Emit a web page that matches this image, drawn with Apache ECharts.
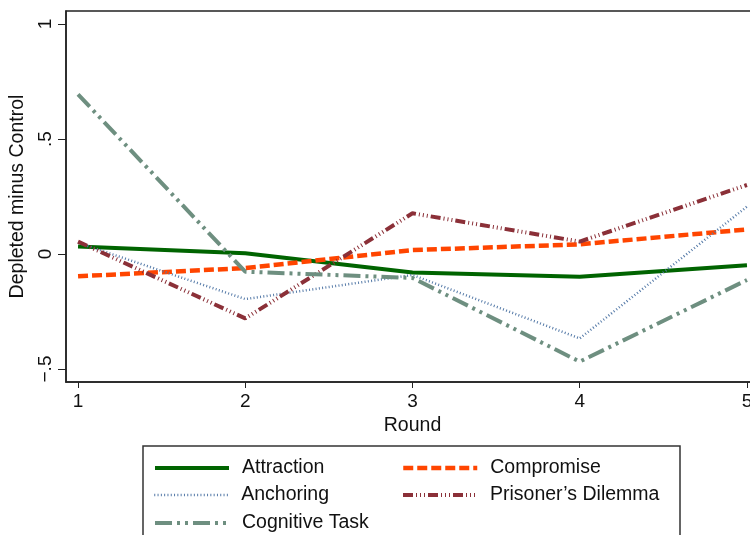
<!DOCTYPE html>
<html>
<head>
<meta charset="utf-8">
<script src="https://cdn.jsdelivr.net/npm/echarts@6/dist/echarts.min.js"></script>
<style>
  html, body { margin: 0; padding: 0; background: #fff; }
  #chart { width: 750px; height: 535px; }
</style>
</head>
<body>
<div id="chart"></div>
<script>
// rounds and series values (depleted minus control)
const rounds = [1, 2, 3, 4, 5]
const attraction = [0.033, 0.003, -0.080, -0.099, -0.049]
const compromise = [-0.097, -0.061, 0.017, 0.042, 0.107]
const anchoring = [0.049, -0.196, -0.091, -0.367, 0.206]
const prisoners = [0.054, -0.280, 0.177, 0.054, 0.300]
const cognitive = [0.694, -0.077, -0.104, -0.468, -0.113]
const yTicks = [-0.5, 0, 0.5, 1]
const yTickLabels = { '-0.5': '\u2212.5', '0': '0', '0.5': '.5', '1': '1' }

const font = 'Liberation Sans, Arial, sans-serif'

function pairs(vals) {
  return rounds.map((r, i) => [r, vals[i]])
}

function line(name, vals, color, width, dash) {
  return {
    name: name,
    type: 'line',
    data: pairs(vals),
    showSymbol: false,
    symbol: 'none',
    silent: true,
    lineStyle: { color: color, width: width, type: dash, cap: 'butt' },
    itemStyle: { color: color },
  }
}

// one legend entry per slot, placed like the two-column key
function key(name, left, centerY, width) {
  return {
    data: [name],
    left: left,
    top: centerY - 11,
    itemWidth: 74,
    itemHeight: 22,
    padding: 0,
    selectedMode: false,
    itemStyle: { color: 'transparent', borderWidth: 0, opacity: 0 },
    lineStyle: { width: width },
    textStyle: { fontFamily: font, fontSize: 19.5, color: '#111', lineHeight: 22, padding: [0, 0, 0, 8] },
  }
}

const chart = echarts.init(document.getElementById('chart'))
chart.setOption({
  animation: false,
  grid: {
    left: 66,
    top: 11,
    width: 693,
    height: 371,
    containLabel: false,
    outerBoundsMode: 'none',
    show: true,
    borderColor: '#222',
    borderWidth: 1.5,
    backgroundColor: '#fff',
  },
  xAxis: {
    type: 'value',
    min: 0.928,
    max: 5.072,
    name: 'Round',
    nameLocation: 'middle',
    nameGap: 31,
    nameTextStyle: { fontFamily: font, fontSize: 19.5, color: '#111' },
    axisLine: { show: true, onZero: false, lineStyle: { color: '#222', width: 1.5 } },
    axisTick: { show: true, length: 6, customValues: rounds, lineStyle: { color: '#222', width: 1 } },
    axisLabel: {
      customValues: rounds,
      fontFamily: font,
      fontSize: 19,
      color: '#111',
      margin: 10,
    },
    splitLine: { show: false },
  },
  yAxis: {
    type: 'value',
    min: -0.5565,
    max: 1.0565,
    name: 'Depleted minus Control',
    nameLocation: 'middle',
    nameGap: 38,
    nameTextStyle: { fontFamily: font, fontSize: 19.5, color: '#111' },
    axisLine: { show: true, onZero: false, lineStyle: { color: '#222', width: 1.5 } },
    axisTick: { show: true, length: 8, customValues: yTicks, lineStyle: { color: '#222', width: 1 } },
    axisLabel: {
      customValues: yTicks,
      rotate: 90,
      fontFamily: font,
      fontSize: 19,
      color: '#111',
      margin: 11,
      formatter: v => yTickLabels[String(v)],
    },
    splitLine: { show: false },
  },
  legend: [
    key('Attraction', 153, 468, 4),
    key('Anchoring', 153, 495, 2.5),
    key('Cognitive Task', 153, 523, 4),
    key('Compromise', 401, 468, 4.5),
    key("Prisoner\u2019s Dilemma", 401, 495, 4),
  ],
  graphic: [
    {
      type: 'rect',
      shape: { x: 143, y: 446, width: 537, height: 100 },
      style: { fill: 'none', stroke: '#333', lineWidth: 1.5 },
      silent: true,
    },
  ],
  series: [
    line('Attraction', attraction, '#006400', 4, 'solid'),
    line('Compromise', compromise, '#FF4500', 4.5, [10, 4]),
    line('Anchoring', anchoring, '#557AA8', 2.5, [1, 2.3]),
    line("Prisoner\u2019s Dilemma", prisoners, '#8B3038', 4, [10, 3, 1, 3, 1, 3, 1, 3]),
    line('Cognitive Task', cognitive, '#6E8F80', 4, [17, 5, 3, 5, 3, 5]),
  ],
})
</script>
</body>
</html>
